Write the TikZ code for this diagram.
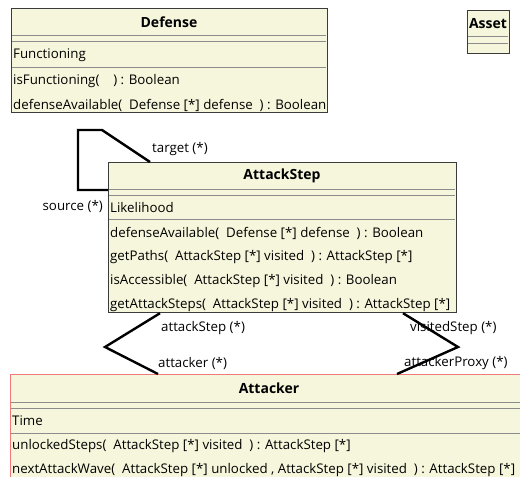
\documentclass[tikz,border=0pt]{standalone}
\usepackage{fontspec}
\setmainfont{Open Sans}
\usetikzlibrary{calc}

\definecolor{classfill}{HTML}{F6F6DC}
\definecolor{classedge}{HTML}{3C3C3C}
\definecolor{rulegray}{HTML}{8C8C8C}
\definecolor{selectedge}{HTML}{F07A7A}

\tikzset{
  classbox/.style={draw=classedge, fill=classfill, line width=1.2pt, anchor=north west, inner sep=0pt},
  member/.style={anchor=west, inner sep=0pt, yshift=-2pt, font=\fontsize{13.3}{15}\selectfont},
  classtitle/.style={inner sep=0pt, yshift=-1.5pt, font=\fontsize{14}{16}\selectfont\bfseries},
  divider/.style={draw=rulegray, line width=0.9pt},
  assoc/.style={draw=black, line width=2.4pt, line join=miter},
  role/.style={inner sep=0pt, yshift=-2pt, font=\fontsize{13.3}{15}\selectfont},
}

\begin{document}
\begin{tikzpicture}[x=1pt, y=-1pt]
\useasboundingbox (0,0) rectangle (520,477);

% ---- role labels (drawn first, association lines go over them) ----
\node[role, anchor=west] (lblTarget) at (152,147) {target (*)};
\node[role, anchor=east] (lblSource) at (103,204) {source (*)};
\node[role, anchor=west] (lblAttackStep) at (161,326) {attackStep (*)};
\node[role, anchor=west] (lblAttacker) at (158,361) {attacker (*)};
\node[role, anchor=west] (lblVisited) at (410,326) {visitedStep (*)};
\node[role, anchor=west] (lblProxy) at (404,361) {attackerProxy (*)};

% ---- class boxes ----
\node[classbox, minimum width=316pt, minimum height=104pt] (defense) at (11,8) {};
\node[classbox, minimum width=42pt, minimum height=43pt] (asset) at (467,10) {};
\node[classbox, minimum width=348pt, minimum height=150pt] (attackstep) at (108,162) {};
\node[classbox, draw=selectedge, minimum width=518pt, minimum height=106pt] (attacker) at (10,374) {};

% ---- associations ----
\coordinate (loopTop) at (102,130);
\coordinate (loopCorner) at (78,130);
\coordinate (loopBottom) at (78,190);
\draw[assoc] ($(attackstep.north west)+(42,0)$) -- (loopTop) -- (loopCorner)
  -- (loopBottom) -- ($(attackstep.north west)+(0,28)$);

\coordinate (leftBend) at (105,347);
\draw[assoc] ($(attackstep.south west)+(52,0)$) -- (leftBend) -- ($(attacker.north west)+(148,0)$);

\coordinate (rightBend) at (458,347);
\draw[assoc] ($(attackstep.south west)+(295,0)$) -- (rightBend) -- ($(attacker.north west)+(387,0)$);

% ---- Defense ----
\node[classtitle] (defenseTitle) at (169,21) {Defense};
\draw[divider] (12,35) -- (326,35);
\draw[divider] (12,41) -- (326,41);
\draw[divider] (12,67) -- (326,67);
\node[member] (defAttr) at (13,53) {Functioning};
\node[member] (defOp1) at (13,79) {isFunctioning(\ \ \ \ ) : Boolean};
\node[member] (defOp2) at (13,103) {defenseAvailable(\ \ Defense [*] defense\ \ ) : Boolean};

% ---- Asset ----
\node[classtitle] (assetTitle) at (488,22) {Asset};
\draw[divider] (468,36) -- (508,36);
\draw[divider] (468,43) -- (508,43);

% ---- AttackStep ----
\node[classtitle] (attackstepTitle) at (282,174) {AttackStep};
\draw[divider] (109,189) -- (455,189);
\draw[divider] (109,195) -- (455,195);
\draw[divider] (109,219) -- (455,219);
\node[member] (asAttr) at (110,206) {Likelihood};
\node[member] (asOp1) at (110,231) {defenseAvailable(\ \ Defense [*] defense\ \ ) : Boolean};
\node[member] (asOp2) at (110,255) {getPaths(\ \ AttackStep [*] visited\ \ ) : AttackStep [*]};
\node[member] (asOp3) at (110,279) {isAccessible(\ \ AttackStep [*] visited\ \ ) : Boolean};
\node[member] (asOp4) at (110,303) {getAttackSteps(\ \ AttackStep [*] visited\ \ ) : AttackStep [*]};

% ---- Attacker ----
\node[classtitle] (attackerTitle) at (269,387) {Attacker};
\draw[divider] (11,402) -- (527,402);
\draw[divider] (11,408) -- (527,408);
\draw[divider] (11,433) -- (527,433);
\node[member] (atAttr) at (12,419) {Time};
\node[member] (atOp1) at (12,444) {unlockedSteps(\ \ AttackStep [*] visited\ \ ) : AttackStep [*]};
\node[member] (atOp2) at (12,468) {nextAttackWave(\ \ AttackStep [*] unlocked\ , AttackStep [*] visited\ \ ) : AttackStep [*]};
\end{tikzpicture}
\end{document}
